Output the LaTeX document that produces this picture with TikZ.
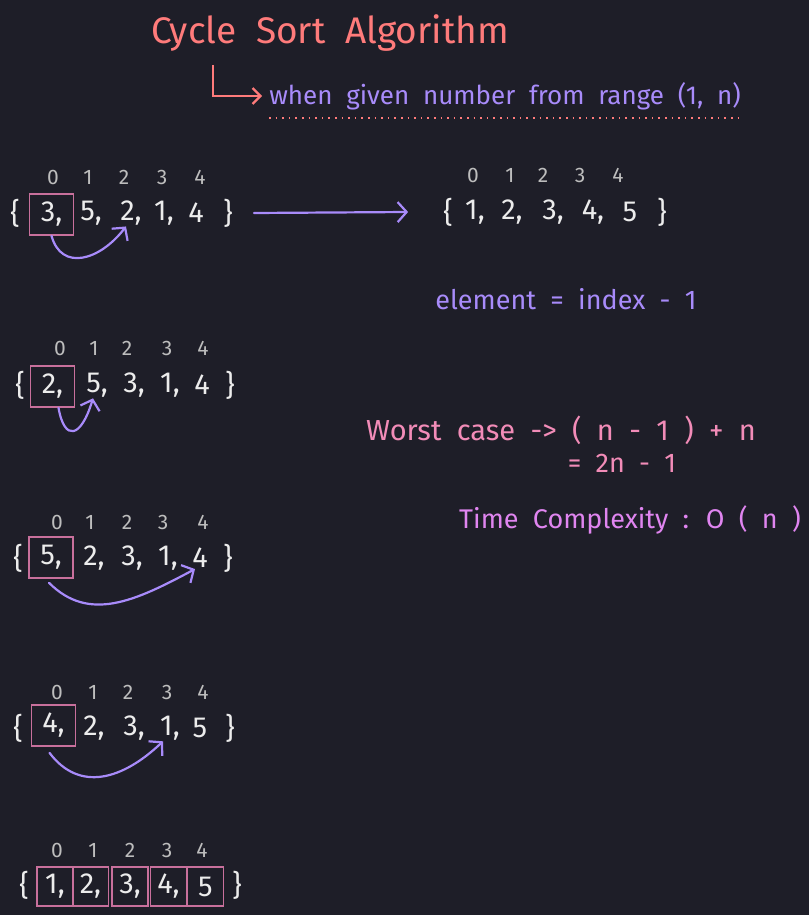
\documentclass[tikz,border=0pt]{standalone}
\usepackage{fontspec}
\setmainfont{Fira Sans}[WordSpace=2]
\usetikzlibrary{arrows.meta}
\definecolor{bgdark}{HTML}{1E1E28}
\definecolor{titlered}{HTML}{FF7B7B}
\definecolor{notepurple}{HTML}{A88BFA}
\definecolor{notepink}{HTML}{F28CB8}
\definecolor{noteorchid}{HTML}{E085F0}
\definecolor{cellpink}{HTML}{C8709C}
\definecolor{numwhite}{HTML}{ECECEC}
\definecolor{idxgrey}{HTML}{BDBDBD}

\begin{document}
\begin{tikzpicture}[x=1pt,y=-1pt,
			num/.style={text=numwhite,inner sep=1pt,font=\fontsize{29}{29}\selectfont},
			idx/.style={text=idxgrey,inner sep=1pt,font=\fontsize{21}{21}\selectfont},
			cell/.style={num,draw=cellpink,line width=1.6pt,minimum width=44pt,minimum height=41pt},
			slot/.style={num,draw=cellpink,line width=1.6pt,minimum width=36pt,minimum height=39pt},
			note/.style={inner sep=0pt,font=\fontsize{27}{27}\selectfont},
			swap/.style={draw=notepurple,line width=2.2pt,line cap=round,-{Straight Barb[length=9pt,width=20pt]}}]
			\useasboundingbox (0,0) rectangle (809,915);
			\fill[bgdark] (0,0) rectangle (809,915);

			% heading
			\node (title) [note,text=titlered,font=\fontsize{37}{37}\selectfont] at (330,33) {Cycle Sort Algorithm};
			\node (sub) [note,text=notepurple,font=\fontsize{26}{26}\selectfont] at (505,96) {when given number from range (1, n)};
			\coordinate (bend) at (213,65);
			\draw[draw=titlered,line width=2.2pt,-{Straight Barb[length=8pt,width=16pt]}] (bend) |- ([xshift=-7pt]sub.west);
			\draw[draw=titlered,line width=1.6pt,dash pattern=on 1.6pt off 5pt] ([yshift=-8pt]sub.south west) -- ([yshift=-8pt]sub.south east);

			% first pass
			\node (r1i0) [idx] at (53,177) {0};
			\node (r1i1) [idx] at (88,177) {1};
			\node (r1i2) [idx] at (124,177) {2};
			\node (r1i3) [idx] at (162,177) {3};
			\node (r1i4) [idx] at (200,177) {4};
			\node (r1open) [num] at (15,213) {\{};
			\node (r1a0) [cell] at (51.5,214.5) {3,};
			\node (r1a1) [num] at (91,213) {5,};
			\node (r1a2) [num] at (131,213) {2,};
			\node (r1a3) [num] at (164,213) {1,};
			\node (r1a4) [num] at (196,213) {4};
			\node (r1close) [num] at (228,213) {\}};
			\draw[swap] (r1a0.south) .. controls +(10,36) and +(-26,34) .. ([xshift=-5pt]r1a2.south);

			% sorted result
			\node (r0i0) [idx] at (473,175) {0};
			\node (r0i1) [idx] at (510,175) {1};
			\node (r0i2) [idx] at (543,175) {2};
			\node (r0i3) [idx] at (580,175) {3};
			\node (r0i4) [idx] at (618,175) {4};
			\node (r0open) [num] at (448,212) {\{};
			\node (r0a0) [num] at (475,212) {1,};
			\node (r0a1) [num] at (512,212) {2,};
			\node (r0a2) [num] at (553,212) {3,};
			\node (r0a3) [num] at (593,212) {4,};
			\node (r0a4) [num] at (630,212) {5};
			\node (r0close) [num] at (662,212) {\}};
			\draw[swap] ([xshift=20pt]r1close.east) -- ([xshift=-34pt]r0open.west);

			\node (rule) [note,text=notepurple] at (566,299) {element = index - 1};

			% second pass
			\node (r2i0) [idx] at (60,348) {0};
			\node (r2i1) [idx] at (94,348) {1};
			\node (r2i2) [idx] at (127,348) {2};
			\node (r2i3) [idx] at (167,348) {3};
			\node (r2i4) [idx] at (203,348) {4};
			\node (r2open) [num] at (20,385) {\{};
			\node (r2a0) [cell] at (52.5,386.5) {2,};
			\node (r2a1) [num] at (97,385) {5,};
			\node (r2a2) [num] at (134,385) {3,};
			\node (r2a3) [num] at (170,385) {1,};
			\node (r2a4) [num] at (202,385) {4};
			\node (r2close) [num] at (230,385) {\}};
			\draw[swap] ([xshift=6pt]r2a0.south) .. controls +(6,34) and +(-12,40) .. ([xshift=-4pt]r2a1.south);

			\node (worst) [note,text=notepink,font=\fontsize{29}{29}\selectfont] at (561,430) {Worst case -> ( n - 1 ) + n};
			\node (worst2) [note,text=notepink] at (622,463) {= 2n - 1};

			% third pass
			\node (r3i0) [idx] at (57,522) {0};
			\node (r3i1) [idx] at (90,522) {1};
			\node (r3i2) [idx] at (127,522) {2};
			\node (r3i3) [idx] at (163,522) {3};
			\node (r3i4) [idx] at (203,522) {4};
			\node (r3open) [num] at (18,558) {\{};
			\node (r3a0) [cell] at (51,557.5) {5,};
			\node (r3a1) [num] at (94,558) {2,};
			\node (r3a2) [num] at (132,558) {3,};
			\node (r3a3) [num] at (168,558) {1,};
			\node (r3a4) [num] at (200,558) {4};
			\node (r3close) [num] at (228,558) {\}};
			\draw[swap] ([xshift=-2pt,yshift=-4pt]r3a0.south) .. controls +(40,40) and +(-60,32) .. ([xshift=-5pt]r3a4.south);

			\node (cost) [note,text=noteorchid] at (630,520) {Time Complexity : O ( n )};

			% fourth pass
			\node (r4i0) [idx] at (57,692) {0};
			\node (r4i1) [idx] at (93,692) {1};
			\node (r4i2) [idx] at (128,692) {2};
			\node (r4i3) [idx] at (167,692) {3};
			\node (r4i4) [idx] at (203,692) {4};
			\node (r4open) [num] at (18,728) {\{};
			\node (r4a0) [cell] at (53.5,725.5) {4,};
			\node (r4a1) [num] at (94,728) {2,};
			\node (r4a2) [num] at (134,728) {3,};
			\node (r4a3) [num] at (170,728) {1,};
			\node (r4a4) [num] at (200,728) {5};
			\node (r4close) [num] at (230,728) {\}};
			\draw[swap] ([xshift=-4pt,yshift=-6pt]r4a0.south) .. controls +(30,40) and +(-40,38) .. ([xshift=-7pt]r4a3.south);

			% done
			\node (r5i0) [idx] at (57,850) {0};
			\node (r5i1) [idx] at (93,850) {1};
			\node (r5i2) [idx] at (130,850) {2};
			\node (r5i3) [idx] at (167,850) {3};
			\node (r5i4) [idx] at (202,850) {4};
			\node (r5open) [num] at (24,885) {\{};
			\node (r5a0) [slot] at (55,886.5) {1,};
			\node (r5a1) [slot] at (90.5,886.5) {2,};
			\node (r5a2) [slot] at (130,886.5) {3,};
			\node (r5a3) [slot] at (168.5,886.5) {4,};
			\node (r5a4) [slot] at (205.5,886.5) {5};
			\node (r5close) [num] at (237,885) {\}};
		\end{tikzpicture}
\end{document}
